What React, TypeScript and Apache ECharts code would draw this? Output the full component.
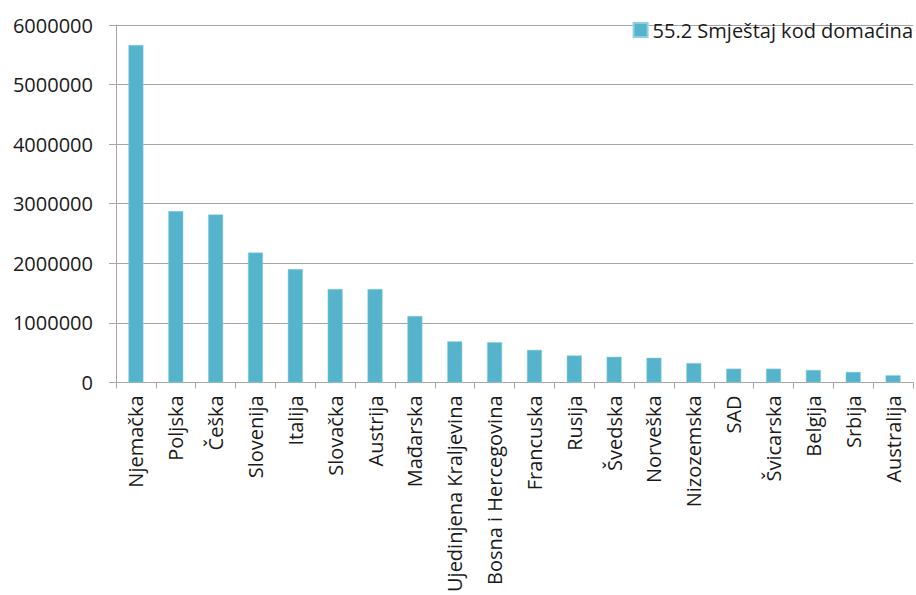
import React, { useEffect, useRef } from "react";
import * as echarts from "echarts";

const categories = [
  "Njemačka", "Poljska", "Češka", "Slovenija", "Italija", "Slovačka", "Austrija",
  "Mađarska", "Ujedinjena Kraljevina", "Bosna i Hercegovina", "Francuska", "Rusija",
  "Švedska", "Norveška", "Nizozemska", "SAD", "Švicarska", "Belgija", "Srbija", "Australija",
];
const seriesName = "55.2 Smještaj kod domaćina";
const values = [
  5665000, 2876000, 2820000, 2180000, 1904000, 1569000, 1569000,
  1117000, 690000, 675000, 547000, 453000, 431000, 415000, 326000,
  232000, 232000, 210000, 177000, 121000,
];
const yTicks = { min: 0, max: 6000000, interval: 1000000 };

const FONT = "'Open Sans', 'Noto Sans', sans-serif";

export default function App() {
  const ref = useRef<HTMLDivElement>(null);
  useEffect(() => {
    if (!ref.current) return;
    const chart = echarts.init(ref.current, undefined, { renderer: "svg" });
    chart.setOption({
      animation: false,
      textStyle: { fontFamily: FONT },
      legend: {
        show: true,
        right: -2,
        top: 15,
        itemWidth: 14,
        itemHeight: 14,
        itemGap: 5,
        icon: "rect",
        textStyle: { fontFamily: FONT, fontSize: 20, color: "#1a1a1a", padding: [0, 0, 0, 0] },
        data: [seriesName],
      },
      grid: { left: 116, right: 3, top: 25, bottom: 211, containLabel: false },
      xAxis: {
        type: "category",
        data: categories,
        boundaryGap: true,
        axisLine: { show: true, lineStyle: { color: "#a6a6a6", width: 1 } },
        axisTick: { show: true, length: 6, alignWithLabel: false, lineStyle: { color: "#a6a6a6" } },
        axisLabel: {
          rotate: 90,
          interval: 0,
          margin: 13,
          fontFamily: FONT,
          fontSize: 20,
          color: "#1a1a1a",
        },
      },
      yAxis: {
        type: "value",
        min: yTicks.min,
        max: yTicks.max,
        interval: yTicks.interval,
        axisLine: { show: true, lineStyle: { color: "#a6a6a6", width: 1 } },
        axisTick: { show: true, length: 7, lineStyle: { color: "#a6a6a6" } },
        splitLine: { show: true, lineStyle: { color: "#a6a6a6", width: 1 } },
        axisLabel: {
          margin: 23,
          fontFamily: FONT,
          fontSize: 20,
          color: "#1a1a1a",
          formatter: (v: number) => String(v),
        },
      },
      series: [
        {
          name: seriesName,
          type: "bar",
          data: values,
          barWidth: 15,
          itemStyle: { color: "#56B3CC", borderColor: "#8fd0e0", borderWidth: 0.5 },
        },
      ],
    });
    return () => chart.dispose();
  }, []);
  return <div ref={ref} style={{ width: 916, height: 595, position: "absolute", left: 0, top: 0, background: "#fff" }} />;
}
